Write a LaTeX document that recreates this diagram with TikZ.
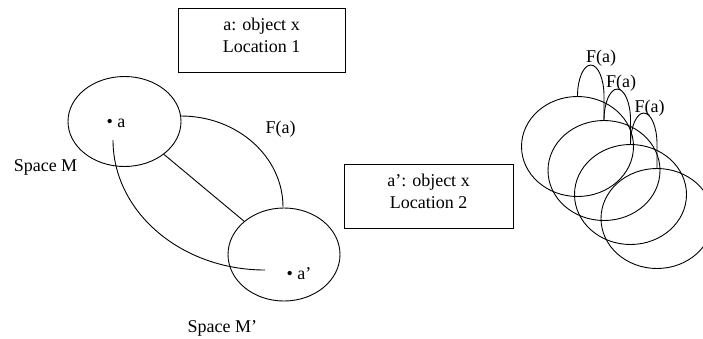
\documentclass[tikz,border=0pt]{standalone}
\usepackage{fontspec}
\setmainfont{Liberation Serif}
\usetikzlibrary{shapes.geometric}
\tikzset{
  oval/.style={draw, ellipse, inner sep=0pt},
  space/.style={oval, minimum width=113pt, minimum height=90pt},
  layer/.style={oval, minimum width=112pt, minimum height=100pt},
  infobox/.style={draw, rectangle, inner sep=0pt},
  lbl/.style={inner sep=0pt, font=\fontsize{18}{21.6}\selectfont},
  boxtext/.style={lbl, align=center},
}
\begin{document}
\begin{tikzpicture}[x=1pt, y=-1pt, line width=0.9pt]
\useasboundingbox (0,0) rectangle (703,338);
\clip (0,0) rectangle (703,338);

% left diagram
\node[space] (M) at (124.5,121.5) {};
\node[space, minimum width=112pt, minimum height=93pt] (Mp) at (284,254.5) {};
\draw (M) -- (Mp);
\coordinate (fa1) at (181,116);
\coordinate (fa2) at (113,140);
\draw (fa1) arc[start angle=90, end angle=0, x radius=102pt, y radius=91pt];
\draw (fa2) arc[start angle=180, end angle=270, x radius=152pt, y radius=130pt];

\node[lbl, anchor=base west] (pa) at (106.2,127) {• a};
\node[lbl, anchor=base west] (pap) at (286.2,279) {• a’};
\node[lbl, anchor=base] (sM) at (45.5,171.7) {Space M};
\node[lbl, anchor=base] (sMp) at (222.3,332) {Space M’};
\node[lbl, anchor=base] (Fl) at (280.5,133.5) {F(a)};

% boxes
\node[infobox, minimum width=167pt, minimum height=64pt] (b1) at (261.5,40) {};
\node[boxtext] (t1) at (261.5,35.3) {a: object x\\Location 1};
\node[infobox, minimum width=169pt, minimum height=64pt] (b2) at (428.5,196) {};
\node[boxtext] (t2) at (428.5,191.3) {a’: object x\\Location 2};

% right diagram
\node[layer] (E1) at (577.5,146.5) {};
\node[layer] (E2) at (604,170.5) {};
\node[layer] (E3) at (630.5,194.5) {};
\node[layer] (E4) at (657,218.5) {};
\draw (E1.north) arc[start angle=180, end angle=0, x radius=13.25pt, y radius=31pt] -- (E2.north);
\draw (E2.north) arc[start angle=180, end angle=0, x radius=13.25pt, y radius=31pt] -- (E3.north);
\draw (E3.north) arc[start angle=180, end angle=0, x radius=13.25pt, y radius=31pt] -- (E4.north);
\node[lbl, anchor=base] (F1) at (601,62.8) {F(a)};
\node[lbl, anchor=base] (F2) at (621,87.8) {F(a)};
\node[lbl, anchor=base] (F3) at (649.7,112.8) {F(a)};
\end{tikzpicture}
\end{document}
